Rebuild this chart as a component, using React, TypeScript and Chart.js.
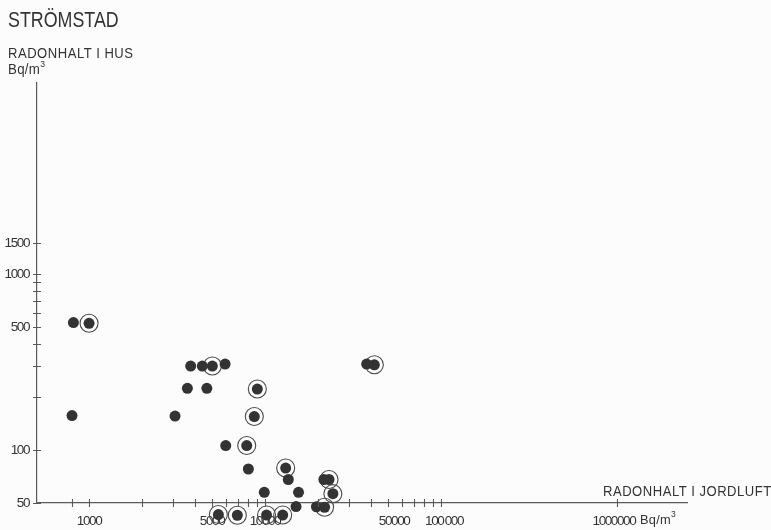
import React, { useEffect, useRef } from 'react';
import { Chart, registerables } from 'chart.js';

Chart.register(...registerables);

// Plain (filled) measurement points: soil-air radon (x) vs indoor radon (y), Bq/m3
const plainX = [815, 800, 3080, 3620, 4670, 3780, 4400, 5930, 5980, 8040, 13560, 9900, 15500, 21600, 15000, 19600, 37800];
const plainY = [530, 157, 156, 224, 224, 300, 300, 308, 106, 78, 68, 57.5, 57.5, 68, 47.7, 47.6, 308];

// Circled measurement points
const circledX = [1000, 5020, 9040, 8690, 7870, 13100, 23100, 24300, 21800, 5430, 6960, 10200, 12600, 41800];
const circledY = [525, 300, 222, 155, 106, 79, 68, 56.5, 47.3, 43, 42.6, 42.7, 42.7, 305];

// Axis ticks
const xTickValues = [800, 1000, 2000, 3000, 4000, 5000, 6000, 7000, 8000, 9000, 10000, 20000, 30000, 40000, 50000, 60000, 70000, 80000, 90000, 100000, 1000000];
const xLabelValues = [1000, 5000, 10000, 50000, 100000, 1000000];
const xLabelTexts = ['1000', '5000', '10000', '\u2007\u200750000', '\u2007100\u2009000', '1000000\u2007'];

const yTickValues = [50, 100, 200, 300, 400, 500, 600, 700, 800, 900, 1000, 1500];
const yLabelValues = [50, 100, 500, 1000, 1500];
const yLabelTexts = ['50', '100', '500', '1000', '1500'];

const xMin = 506;
const xMax = 2500000;
const yMin = 50;
const yMax = 12170;

const FONT = "'Liberation Sans', Arial, sans-serif";
const INK = '#333333';
const AXIS = '#5a5a5a';

const narrowText = {
  id: 'narrowText',
  beforeDraw(chart: any) {
    (chart.ctx as any).letterSpacing = '-1.4px';
  },
  afterDraw(chart: any) {
    (chart.ctx as any).letterSpacing = '0px';
  },
};

// Points whose values lie below the axis minimum are skipped by Chart.js; draw those elements too.
const outsidePoints = {
  id: 'outsidePoints',
  afterDatasetsDraw(chart: any) {
    const { ctx, chartArea } = chart;
    const metas = chart.getSortedVisibleDatasetMetas();
    for (let m = metas.length - 1; m >= 0; m--) {
      metas[m].data.forEach((el: any) => {
        const margin = el.size() / 2;
        const inside =
          el.x > chartArea.left - margin &&
          el.x < chartArea.right + margin &&
          el.y > chartArea.top - margin &&
          el.y < chartArea.bottom + margin;
        if (!inside) el.draw(ctx);
      });
    }
  },
};

const crossTicks = {
  id: 'crossTicks',
  afterDraw(chart: any) {
    const { ctx, chartArea, scales } = chart;
    ctx.save();
    ctx.strokeStyle = AXIS;
    ctx.lineWidth = 1.1;
    ctx.beginPath();
    scales.x.ticks.forEach((t: any) => {
      const px = Math.round(scales.x.getPixelForValue(t.value)) + 0.5;
      ctx.moveTo(px, chartArea.bottom - 4);
      ctx.lineTo(px, chartArea.bottom + 4);
    });
    scales.y.ticks.forEach((t: any) => {
      const py = Math.round(scales.y.getPixelForValue(t.value)) + 0.5;
      ctx.moveTo(chartArea.left - 4, py);
      ctx.lineTo(chartArea.left + 4, py);
    });
    ctx.stroke();
    ctx.restore();
  },
};

export default function App() {
  const ref = useRef<HTMLCanvasElement | null>(null);

  useEffect(() => {
    if (!ref.current) return;
    const allPts = plainX.map((x, i) => ({ x, y: plainY[i] })).concat(
      circledX.map((x, i) => ({ x, y: circledY[i] }))
    );
    const ringPts = circledX.map((x, i) => ({ x, y: circledY[i] }));

    const chart = new Chart(ref.current, {
      type: 'scatter',
      data: {
        datasets: [
          {
            label: 'dots',
            data: allPts,
            pointRadius: 5.5,
            pointHoverRadius: 5.5,
            backgroundColor: INK,
            borderWidth: 0,
            clip: false,
          } as any,
          {
            label: 'rings',
            data: ringPts,
            pointRadius: 9,
            pointHoverRadius: 9,
            backgroundColor: 'rgba(0,0,0,0)',
            borderColor: '#4a4a4a',
            borderWidth: 1.1,
            clip: false,
          } as any,
        ],
      },
      options: {
        responsive: false,
        animation: false,
        events: [],
        layout: { padding: { left: 0, top: 83, right: 84, bottom: 0 } },
        plugins: { legend: { display: false }, tooltip: { enabled: false }, title: { display: false } },
        scales: {
          x: {
            type: 'logarithmic',
            min: xMin,
            max: xMax,
            afterBuildTicks: (scale: any) => {
              scale.ticks = xTickValues.map((v) => ({ value: v }));
            },
            afterFit: (scale: any) => {
              scale.height = 27;
            },
            grid: { display: true, drawOnChartArea: false, drawTicks: false },
            border: { display: true, color: AXIS, width: 1.2 },
            ticks: {
              autoSkip: false,
              maxRotation: 0,
              minRotation: 0,
              padding: 10,
              color: INK,
              font: { family: FONT, size: 13.5 },
              callback: (v: any) => {
                const i = xLabelValues.indexOf(Number(v));
                return i >= 0 ? xLabelTexts[i] : '';
              },
            },
          },
          y: {
            type: 'logarithmic',
            min: yMin,
            max: yMax,
            afterBuildTicks: (scale: any) => {
              scale.ticks = yTickValues.map((v) => ({ value: v }));
            },
            afterFit: (scale: any) => {
              scale.width = 37;
            },
            grid: { display: true, drawOnChartArea: false, drawTicks: false },
            border: { display: true, color: AXIS, width: 1.2 },
            ticks: {
              autoSkip: false,
              padding: 8,
              color: INK,
              font: { family: FONT, size: 13.5 },
              callback: (v: any) => {
                const i = yLabelValues.indexOf(Number(v));
                return i >= 0 ? yLabelTexts[i] : '';
              },
            },
          },
        },
      },
      plugins: [narrowText, outsidePoints, crossTicks],
    });
    return () => chart.destroy();
  }, []);

  const txt: React.CSSProperties = {
    position: 'absolute',
    fontFamily: FONT,
    color: INK,
    whiteSpace: 'nowrap',
    lineHeight: 1,
    transformOrigin: 'left top',
  };

  return (
    <div style={{ position: 'absolute', left: 0, top: 0, width: 771, height: 530, background: '#fcfcfc', overflow: 'hidden' }}>
      <canvas ref={ref} width={771} height={530} style={{ position: 'absolute', left: 0, top: 0, width: 771, height: 530 }} />
      <div style={{ ...txt, left: 8, top: 10, fontSize: 21.5, transform: 'scaleX(0.83)' }}>STRÖMSTAD</div>
      <div style={{ ...txt, left: 8, top: 45, fontSize: 15, letterSpacing: 0.6, transform: 'scaleX(0.87)' }}>RADONHALT I HUS</div>
      <div style={{ ...txt, left: 8, top: 62, fontSize: 14, letterSpacing: 0.3, transform: 'scaleX(0.95)' }}>
        Bq/m<sup style={{ fontSize: 9, verticalAlign: 'top', position: 'relative', top: -2 }}>3</sup>
      </div>
      <div style={{ ...txt, left: 603, top: 483, fontSize: 15, letterSpacing: 0.6, transform: 'scaleX(0.87)' }}>RADONHALT I JORDLUFT</div>
      <div style={{ ...txt, left: 640, top: 513, fontSize: 13.5, letterSpacing: 0.3, transform: 'scaleX(0.95)' }}>
        Bq/m<sup style={{ fontSize: 9, verticalAlign: 'top', position: 'relative', top: -3 }}>3</sup>
      </div>
    </div>
  );
}
